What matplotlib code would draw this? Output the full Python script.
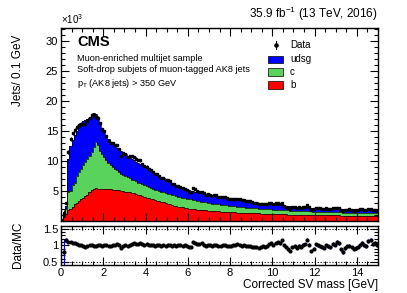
import numpy as np
import matplotlib
matplotlib.use("Agg")
import matplotlib.pyplot as plt
import matplotlib.patches as patches
from matplotlib.ticker import MultipleLocator, FixedLocator, NullFormatter

plt.rcParams['font.family'] = ['Liberation Sans', 'DejaVu Sans']
plt.rcParams['mathtext.fontset'] = 'custom'
plt.rcParams['mathtext.rm'] = 'Liberation Sans'

W, H = 407, 293
edges = np.round(np.arange(0, 15.01, 0.1), 2)
centers = 0.5 * (edges[:-1] + edges[1:])

# jets per 0.1 GeV, in units of 10^3
b_jets = [
    0.1, 0.6, 1.2, 1.8, 2.0, 2.3, 2.8, 3.0, 3.3, 3.6,
    3.8, 4.1, 4.4, 4.8, 5.1, 5.3, 5.5, 5.4, 5.4, 5.35,
    5.4, 5.3, 5.3, 5.25, 5.2, 5.2, 5.1, 5.1, 5.0, 5.0,
    4.9, 4.85, 4.8, 4.7, 4.6, 4.5, 4.4, 4.3, 4.15, 4.05,
    3.9, 3.8, 3.7, 3.6, 3.5, 3.4, 3.3, 3.2, 3.1, 2.95,
    2.85, 2.75, 2.65, 2.55, 2.45, 2.4, 2.3, 2.25, 2.15, 2.1,
    2.05, 2.0, 1.97, 1.93, 1.9, 1.85, 1.82, 1.8, 1.77, 1.73,
    1.7, 1.68, 1.65, 1.62, 1.6, 1.55, 1.55, 1.52, 1.5, 1.48,
    1.45, 1.44, 1.42, 1.41, 1.4, 1.38, 1.36, 1.35, 1.33, 1.31,
    1.3, 1.28, 1.27, 1.26, 1.24, 1.22, 1.21, 1.2, 1.18, 1.16,
    1.15, 1.14, 1.13, 1.12, 1.11, 1.1, 1.09, 1.08, 1.07, 1.06,
    1.05, 1.05, 1.04, 1.03, 1.02, 1.02, 1.01, 1.0, 0.99, 0.99,
    0.98, 0.98, 0.97, 0.97, 0.96, 0.96, 0.95, 0.94, 0.94, 0.93,
    0.92, 0.92, 0.91, 0.91, 0.9, 0.9, 0.89, 0.89, 0.88, 0.88,
    0.88, 0.87, 0.87, 0.86, 0.86, 0.86, 0.85, 0.85, 0.85, 0.84,
]
c_jets = [
    0.1, 0.4, 0.8, 3.0, 3.0, 3.7, 3.6, 4.5, 4.9, 5.0,
    5.5, 5.7, 5.9, 6.0, 6.3, 7.0, 7.7, 7.2, 6.3, 5.85,
    5.3, 4.9, 4.4, 4.05, 3.8, 3.5, 3.4, 3.1, 2.9, 2.7,
    2.6, 2.45, 2.3, 2.2, 2.15, 2.1, 2.0, 1.95, 1.95, 1.9,
    1.9, 1.85, 1.8, 1.75, 1.7, 1.7, 1.65, 1.65, 1.65, 1.7,
    1.7, 1.7, 1.7, 1.7, 1.7, 1.65, 1.65, 1.65, 1.65, 1.62,
    1.6, 1.58, 1.53, 1.49, 1.45, 1.43, 1.38, 1.35, 1.31, 1.29,
    1.25, 1.22, 1.2, 1.18, 1.15, 1.15, 1.11, 1.1, 1.08, 1.06,
    1.05, 1.02, 1.0, 0.97, 0.94, 0.92, 0.91, 0.89, 0.88, 0.87,
    0.85, 0.84, 0.82, 0.8, 0.79, 0.78, 0.77, 0.76, 0.76, 0.76,
    0.75, 0.74, 0.73, 0.72, 0.71, 0.7, 0.69, 0.68, 0.67, 0.66,
    0.65, 0.63, 0.63, 0.63, 0.63, 0.62, 0.61, 0.61, 0.61, 0.59,
    0.58, 0.57, 0.57, 0.55, 0.55, 0.54, 0.53, 0.53, 0.52, 0.52,
    0.52, 0.51, 0.51, 0.5, 0.5, 0.49, 0.49, 0.48, 0.48, 0.47,
    0.46, 0.46, 0.45, 0.45, 0.44, 0.43, 0.43, 0.42, 0.41, 0.41,
]
udsg_jets = [
    0.1, 0.5, 0.5, 5.5, 7.4, 7.5, 7.9, 7.5, 7.5, 7.6,
    7.3, 7.0, 6.7, 6.3, 6.1, 5.6, 4.6, 4.6, 4.4, 4.2,
    4.1, 3.9, 3.9, 3.8, 3.8, 3.7, 3.7, 3.7, 3.7, 3.7,
    3.6, 3.5, 3.5, 3.5, 3.35, 3.3, 3.3, 3.25, 3.15, 3.1,
    3.0, 2.9, 2.85, 2.8, 2.75, 2.65, 2.6, 2.45, 2.35, 2.25,
    2.15, 2.05, 1.95, 1.9, 1.8, 1.75, 1.7, 1.6, 1.6, 1.53,
    1.45, 1.47, 1.45, 1.48, 1.45, 1.42, 1.4, 1.35, 1.37, 1.38,
    1.4, 1.4, 1.4, 1.38, 1.35, 1.33, 1.29, 1.28, 1.27, 1.24,
    1.2, 1.19, 1.18, 1.2, 1.21, 1.2, 1.18, 1.16, 1.14, 1.12,
    1.1, 1.06, 1.01, 0.99, 0.97, 0.95, 0.92, 0.89, 0.86, 0.86,
    0.85, 0.82, 0.79, 0.78, 0.78, 0.75, 0.72, 0.72, 0.71, 0.7,
    0.7, 0.7, 0.68, 0.66, 0.65, 0.64, 0.63, 0.61, 0.6, 0.6,
    0.59, 0.59, 0.59, 0.6, 0.59, 0.59, 0.6, 0.6, 0.59, 0.59,
    0.58, 0.58, 0.58, 0.58, 0.57, 0.57, 0.57, 0.56, 0.56, 0.55,
    0.56, 0.55, 0.53, 0.51, 0.5, 0.49, 0.47, 0.46, 0.44, 0.42,
]
data_mc = [
    np.nan, 0.8, 1.17, 1.11, 1.1, 1.08, 1.06, 1.04, 1.02, 1.0,
    0.97, 0.96, 0.98, 1.0, 1.01, 0.99, 0.97, 1.0, 1.01, 0.99,
    1.01, 1.0, 0.98, 0.99, 1.01, 1.02, 1.03, 1.01, 0.93, 0.99,
    1.0, 0.99, 1.02, 1.04, 1.06, 1.05, 1.04, 1.06, 1.03, 1.02,
    1.03, 1.01, 1.02, 1.0, 0.99, 1.01, 1.0, 0.98, 1.0, 0.99,
    1.01, 1.02, 0.99, 1.0, 0.98, 1.0, 1.01, 0.99, 1.0, 0.98,
    0.96, 0.95, 1.1, 1.08, 1.05, 1.03, 1.06, 1.02, 0.99, 1.01,
    1.0, 0.98, 1.0, 1.02, 0.99, 0.98, 1.0, 1.01, 0.99, 0.97,
    0.98, 1.01, 1.0, 1.03, 1.02, 0.99, 1.01, 0.98, 0.97, 0.99,
    0.96, 0.94, 0.95, 0.93, 0.96, 0.98, 0.95, 0.99, 1.05, 1.07,
    1.02, 1.08, 1.1, 1.06, 1.15, 1.0, 0.95, 0.9, 0.83, 0.96,
    0.97, 0.93, 0.99, 0.96, 1.02, 1.04, 1.17, 1.02, 0.83, 0.9,
    1.04, 1.01, 0.98, 0.96, 0.93, 1.0, 0.97, 0.95, 1.05, 1.02,
    1.1, 1.06, 0.88, 0.8, 0.92, 0.97, 0.99, 0.94, 0.9, 0.92,
    0.96, 1.02, 1.07, 1.0, 0.98, 1.13, 1.16, 1.04, 1.08, 1.0,
]
data_mc_err = [
    0.0, 0.4, 0.06, 0.03, 0.025, 0.02, 0.02, 0.02, 0.02, 0.02,
    0.015, 0.015, 0.015, 0.015, 0.015, 0.015, 0.015, 0.015, 0.015, 0.015,
    0.015, 0.015, 0.015, 0.015, 0.015, 0.015, 0.015, 0.015, 0.015, 0.015,
    0.018, 0.018, 0.018, 0.018, 0.018, 0.018, 0.018, 0.018, 0.018, 0.018,
    0.02, 0.02, 0.02, 0.02, 0.02, 0.02, 0.02, 0.02, 0.02, 0.02,
    0.02, 0.02, 0.02, 0.02, 0.02, 0.02, 0.02, 0.02, 0.02, 0.02,
    0.025, 0.025, 0.025, 0.025, 0.025, 0.025, 0.025, 0.025, 0.025, 0.025,
    0.025, 0.025, 0.025, 0.025, 0.025, 0.025, 0.025, 0.025, 0.025, 0.025,
    0.028, 0.028, 0.028, 0.028, 0.028, 0.028, 0.028, 0.028, 0.028, 0.028,
    0.03, 0.03, 0.03, 0.03, 0.03, 0.03, 0.03, 0.03, 0.03, 0.03,
    0.035, 0.035, 0.035, 0.035, 0.035, 0.035, 0.035, 0.035, 0.035, 0.035,
    0.04, 0.04, 0.04, 0.04, 0.04, 0.04, 0.04, 0.04, 0.04, 0.04,
    0.045, 0.045, 0.045, 0.045, 0.045, 0.045, 0.045, 0.045, 0.045, 0.045,
    0.05, 0.05, 0.05, 0.05, 0.05, 0.05, 0.05, 0.05, 0.05, 0.05,
    0.05, 0.05, 0.05, 0.05, 0.05, 0.05, 0.05, 0.05, 0.05, 0.05,
]

col_udsg = '#0000ff'
col_c = '#59d35b'
col_b = '#ff0000'

b = np.array(b_jets)
bc = b + np.array(c_jets)
tot = bc + np.array(udsg_jets)
ratio = np.array(data_mc)
rerr = np.array(data_mc_err)
data = ratio * tot
derr = rerr * tot


def fx(px):
    return px / W


def fy(py):
    return 1 - py / H


fig = plt.figure(figsize=(W / 100, H / 100), dpi=100)
ax = fig.add_axes([fx(61), fy(221), fx(378) - fx(61), fy(27.5) - fy(221)])
ax2 = fig.add_axes([fx(61), fy(265), fx(378) - fx(61), fy(226) - fy(265)])

ax.stairs(tot, edges, baseline=bc, fill=True, color=col_udsg)
ax.stairs(bc, edges, baseline=b, fill=True, color=col_c)
ax.stairs(b, edges, baseline=0, fill=True, color=col_b)
for v in (b, bc, tot):
    ax.stairs(v, edges, color='k', lw=0.5)
ax.errorbar(centers, data, yerr=derr, fmt='s', ms=1.9, color='k',
            elinewidth=0.8, capsize=0)

ax.set_xlim(0, 15)
ax.set_ylim(0, 32.2)
ax.xaxis.set_major_locator(MultipleLocator(2))
ax.xaxis.set_minor_locator(MultipleLocator(0.5))
ax.xaxis.set_major_formatter(NullFormatter())
ax.yaxis.set_major_locator(FixedLocator([5, 10, 15, 20, 25, 30]))
ax.yaxis.set_minor_locator(MultipleLocator(1))

ax2.axhline(1.5, color='k', ls=':', lw=0.8)
ax2.axhline(0.5, color='k', ls=':', lw=0.8)
ax2.errorbar(centers, ratio, yerr=rerr, xerr=0.05, fmt='o', ms=2.0,
             mfc='k', mec='k', ecolor=col_udsg, elinewidth=0.9, capsize=0)
ax2.set_xlim(0, 15)
ax2.set_ylim(0.41, 1.58)
ax2.xaxis.set_major_locator(MultipleLocator(2))
ax2.xaxis.set_minor_locator(MultipleLocator(0.5))
ax2.yaxis.set_major_locator(FixedLocator([0.5, 1.0, 1.5]))
ax2.yaxis.set_minor_locator(MultipleLocator(0.1))
ax2.set_yticklabels(['0.5', '1', '1.5'])

for a in (ax, ax2):
    a.tick_params(which='both', direction='in', top=True, right=True,
                  labelsize=8, width=0.8, pad=2)
    a.tick_params(which='major', length=6)
    a.tick_params(which='minor', length=3)
    for s in a.spines.values():
        s.set_linewidth(1.0)

# texts
fig.text(fx(378), fy(14), r'35.9 fb$^{-1}$ (13 TeV, 2016)', ha='right',
         va='center', fontsize=8.5)
fig.text(fx(61), fy(19), r'$\times$10$^{3}$', ha='left', va='center',
         fontsize=7)
fig.text(fx(77), fy(42), 'CMS', ha='left', va='center', fontsize=10.5,
         fontweight='bold')
fig.text(fx(77), fy(58), 'Muon-enriched multijet sample', ha='left',
         va='center', fontsize=6.6)
fig.text(fx(77), fy(70), 'Soft-drop subjets of muon-tagged AK8 jets',
         ha='left', va='center', fontsize=6.6)
fig.text(fx(77), fy(84), r'p$_{\mathrm{T}}$ (AK8 jets) > 350 GeV',
         ha='left', va='center', fontsize=6.6)
fig.text(fx(18), fy(70), 'Jets/ 0.1 GeV', rotation=90, ha='center',
         va='center', fontsize=8.5)
fig.text(fx(18), fy(245), 'Data/MC', rotation=90, ha='center',
         va='center', fontsize=8.5)
fig.text(fx(378), fy(285), 'Corrected SV mass [GeV]', ha='right',
         va='center', fontsize=8.5)

# legend
fig.lines.append(plt.Line2D([fx(276), fx(276)], [fy(41), fy(49)], color='k',
                            lw=0.8, transform=fig.transFigure))
fig.lines.append(plt.Line2D([fx(276)], [fy(45)], marker='o', ms=2.3,
                            color='k', transform=fig.transFigure))
fig.text(fx(290), fy(45), 'Data', ha='left', va='center', fontsize=7)
for yy, col, lab in ((59.5, col_udsg, 'udsg'), (72, col_c, 'c'),
                     (85, col_b, 'b')):
    fig.patches.append(patches.Rectangle((fx(268), fy(yy + 3.7)),
                                         fx(283) - fx(268), 7.4 / H,
                                         facecolor=col, edgecolor='k',
                                         lw=0.5, transform=fig.transFigure))
    fig.text(fx(290), fy(yy), lab, ha='left', va='center', fontsize=7)

fig.savefig('out.png', dpi=100)
